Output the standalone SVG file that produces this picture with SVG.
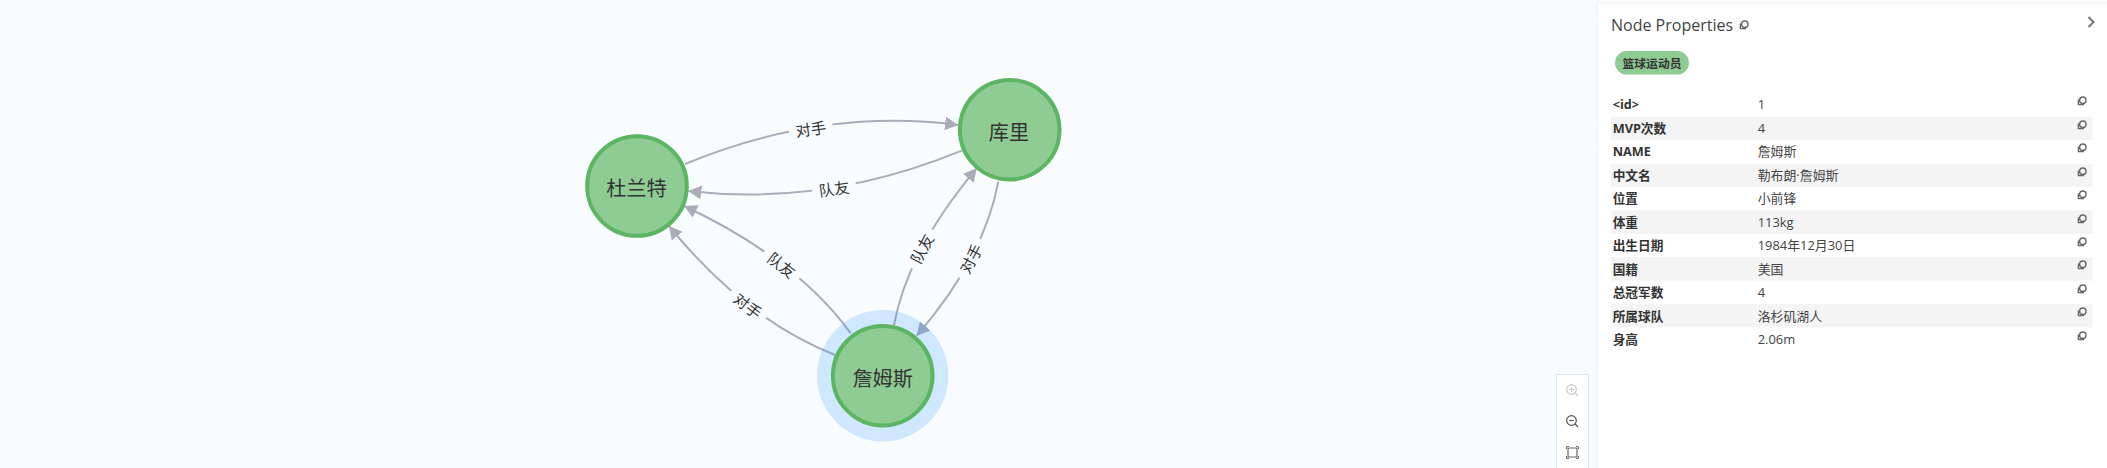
<svg xmlns="http://www.w3.org/2000/svg" xmlns:xlink="http://www.w3.org/1999/xlink" width="2107" height="468" viewBox="0 0 2107 468">
<style>
.edge{fill:none;stroke:#a8adb9;stroke-width:2;marker-end:url(#arr)}
.lb{fill:#f9fcff}
.el{font:15.3px "Noto Sans CJK SC",sans-serif;fill:#333;text-anchor:middle;dominant-baseline:central}
.halo{fill:#1890ff;fill-opacity:.18}
.node{fill:#8ecc93;stroke:#5cb562;stroke-width:4}
.nl{font:20.2px "Noto Sans CJK SC",sans-serif;fill:#333;text-anchor:middle;dominant-baseline:central}
.k{font:700 12.7px "Open Sans","Noto Sans CJK SC",sans-serif;fill:#333;dominant-baseline:central}
.v{font:12.9px "Open Sans","Noto Sans CJK SC",sans-serif;fill:#444;dominant-baseline:central}
.row{fill:#f4f4f4}
.ic{fill:none;stroke:#666;stroke-width:1.4}
.ctl{fill:none;stroke:#555;stroke-width:1.2}
</style>
<defs>
<marker id="arr" markerUnits="userSpaceOnUse" markerWidth="14" markerHeight="14" refX="13" refY="7" orient="auto"><path d="M0 0L13 7L0 14Z" fill="#a8adb9"/></marker>
<g id="copy"><circle cx="0.8" cy="-0.8" r="3.2" class="ic"/><path d="M-3.6 -1.6V3.6H2" class="ic"/></g>
</defs>
<rect width="2107" height="468" fill="#f9fcff"/>
<g id="connectors">
<path class="edge" d="M685 164Q821.5 107.5 958 125"/>
<path class="edge" d="M961.7 150.7Q825 207 688.3 191"/>
<path class="edge" d="M894 325Q908 250 976.7 168.3"/>
<path class="edge" d="M998.3 181.7Q984 258 916.7 335.7"/>
<path class="edge" d="M850.7 333.3Q797 259 684 206"/>
<path class="edge" d="M835 355Q745 319.5 669 226"/>
<g transform="translate(810.7 128) rotate(-8)"><rect class="lb" x="-22" y="-10" width="44" height="20"/><text class="el">对手</text></g>
<g transform="translate(834 187.7) rotate(-8)"><rect class="lb" x="-22" y="-10" width="44" height="20"/><text class="el">队友</text></g>
<g transform="translate(921 248.3) rotate(-62)"><rect class="lb" x="-22" y="-10" width="44" height="20"/><text class="el">队友</text></g>
<g transform="translate(970 258.3) rotate(-62)"><rect class="lb" x="-22" y="-10" width="44" height="20"/><text class="el">对手</text></g>
<g transform="translate(782.3 264.3) rotate(38)"><rect class="lb" x="-22" y="-10" width="44" height="20"/><text class="el">队友</text></g>
<g transform="translate(748.3 305) rotate(38)"><rect class="lb" x="-22" y="-10" width="44" height="20"/><text class="el">对手</text></g>
</g>
<g id="node-durant"><circle class="node" cx="637" cy="186" r="49.8"/><text class="nl" x="636.5" y="187">杜兰特</text></g>
<g id="node-curry"><circle class="node" cx="1009.7" cy="129.7" r="49.8"/><text class="nl" x="1009" y="131">库里</text></g>
<g id="node-james"><circle class="halo" cx="882.7" cy="375.7" r="65.7"/><circle class="node" cx="882.7" cy="375.7" r="49.8"/><text class="nl" x="882.7" y="377">詹姆斯</text></g>
<g id="toolbar">
<rect x="1556.5" y="374.5" width="32" height="100" fill="#fff" stroke="#dbe6f5"/>
<g class="ctl" style="stroke:#c8c8c8"><circle cx="1571.5" cy="389.5" r="4.8"/><path d="M1575 393L1578 396M1569 389.5H1574M1571.5 387V392"/></g>
<g class="ctl"><circle cx="1571.5" cy="420.5" r="4.8"/><path d="M1575 424L1578 427M1569 420.5H1574"/></g>
<g class="ctl" style="stroke:#666"><rect x="1568" y="448" width="9" height="9" rx="1"/><path d="M1566.5 449V447.5Q1566.5 446.500 1567.500 446.500H1569M1576 446.500H1577.500Q1578.500 446.500 1578.500 447.500V449M1578.500 456V457.500Q1578.500 458.500 1577.500 458.500H1576M1569 458.500H1567.500Q1566.500 458.500 1566.500 457.500V456"/></g>
</g>
<g id="panel">
<rect x="1597" y="3" width="512" height="467" fill="#fff" stroke="#eef2f6"/>
<text x="1611" y="25" style="font:16px 'Open Sans','Noto Sans CJK SC',sans-serif;fill:#444;dominant-baseline:central">Node Properties</text>
<use href="#copy" x="1744" y="25"/>
<path d="M2088.500 17L2093.500 22L2088.500 27" fill="none" stroke="#777" stroke-width="2"/>
<rect x="1615" y="51" width="74" height="23.6" rx="11.8" fill="#8ecc93"/>
<text x="1652" y="62.500" style="font:700 11.8px 'Noto Sans CJK SC',sans-serif;fill:#333;text-anchor:middle;dominant-baseline:central">篮球运动员</text>
<rect class="row" x="1611" y="116.8" width="481.5" height="23.4"/>
<rect class="row" x="1611" y="163.6" width="481.5" height="23.4"/>
<rect class="row" x="1611" y="210.4" width="481.5" height="23.4"/>
<rect class="row" x="1611" y="257.2" width="481.5" height="23.4"/>
<rect class="row" x="1611" y="304" width="481.5" height="23.4"/>
<text class="k" x="1612.700" y="104">&lt;id&gt;</text><text class="v" x="1757.7" y="104">1</text><use href="#copy" x="2082" y="101"/>
<text class="k" x="1612.700" y="127.500">MVP次数</text><text class="v" x="1757.7" y="127.500">4</text><use href="#copy" x="2082" y="125"/>
<text class="k" x="1612.700" y="151">NAME</text><text class="v" x="1757.7" y="151">詹姆斯</text><use href="#copy" x="2082" y="148"/>
<text class="k" x="1612.700" y="174.500">中文名</text><text class="v" x="1757.7" y="174.500">勒布朗·詹姆斯</text><use href="#copy" x="2082" y="172"/>
<text class="k" x="1612.700" y="197.500">位置</text><text class="v" x="1757.7" y="197.500">小前锋</text><use href="#copy" x="2082" y="195"/>
<text class="k" x="1612.700" y="221.500">体重</text><text class="v" x="1757.7" y="221.500">113kg</text><use href="#copy" x="2082" y="219"/>
<text class="k" x="1612.700" y="244.500">出生日期</text><text class="v" x="1757.7" y="244.500">1984年12月30日</text><use href="#copy" x="2082" y="242"/>
<text class="k" x="1612.700" y="268.500">国籍</text><text class="v" x="1757.7" y="268.500">美国</text><use href="#copy" x="2082" y="265"/>
<text class="k" x="1612.700" y="291.500">总冠军数</text><text class="v" x="1757.7" y="291.500">4</text><use href="#copy" x="2082" y="289"/>
<text class="k" x="1612.700" y="315.500">所属球队</text><text class="v" x="1757.7" y="315.500">洛杉矶湖人</text><use href="#copy" x="2082" y="312"/>
<text class="k" x="1612.700" y="338.500">身高</text><text class="v" x="1757.7" y="338.500">2.06m</text><use href="#copy" x="2082" y="336"/>
</g>
</svg>
